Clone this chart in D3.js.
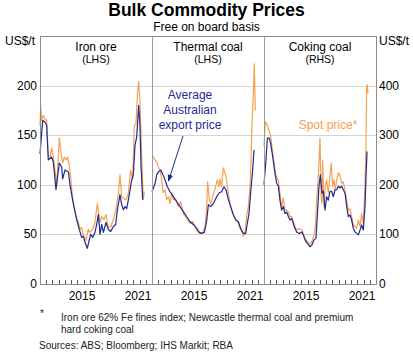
<!DOCTYPE html>
<meta charset="utf-8">
<title>Bulk Commodity Prices</title>
<style>
body { margin: 0; background: #fff; }
svg { font-family: "Liberation Sans", Arial, sans-serif; }
.grid line { stroke: #d4d4d4; stroke-width: 1px; }
.frame { fill: none; stroke: #8c8c8c; stroke-width: 1px; }
.tick-lab { font-size: 12px; fill: #000; }
.series { fill: none; stroke-width: 1.2px; stroke-linejoin: round; }
</style>
<body>
<svg></svg>
<script src="https://d3js.org/d3.v7.min.js"></script>
<script>

var width = 413,
    height = 354;

// panel names and which axis they use
var panels = ["Iron ore", "Thermal coal", "Coking coal"];
var panelSides = ["(LHS)", "(LHS)", "(RHS)"];
var yearLabels = [2015, 2021];
var leftTicks = [0, 50, 100, 150, 200];
var rightTicks = [0, 100, 200, 300, 400];

// [decimal year, US$/t]
var ironExport = [[2011.00,131],[2011.29,165],[2011.54,163],[2011.71,160],[2011.89,125],[2012.25,128],[2012.43,123],[2012.71,95],[2013.07,122],[2013.32,118],[2013.43,106],[2013.68,115],[2014.04,113],[2014.21,100],[2014.57,81],[2014.93,65],[2015.21,55],[2015.46,47],[2015.64,48],[2015.82,42],[2016.07,36],[2016.29,45],[2016.43,50],[2016.64,47],[2016.89,52],[2017.07,60],[2017.25,70],[2017.43,50],[2017.61,60],[2017.79,52],[2018.07,62],[2018.32,55],[2018.57,53],[2018.86,58],[2019.11,60],[2019.29,75],[2019.57,90],[2019.75,80],[2019.93,75],[2020.11,78],[2020.29,76],[2020.57,90],[2020.82,105],[2021.00,110],[2021.18,140],[2021.36,148],[2021.57,180],[2021.71,160],[2021.82,120],[2022.00,85]];
var ironSpot = [[2011.00,160],[2011.07,179],[2011.18,165],[2011.36,170],[2011.54,166],[2011.71,165],[2011.89,130],[2012.07,128],[2012.25,137],[2012.43,128],[2012.61,114],[2012.79,100],[2013.07,147],[2013.25,132],[2013.43,122],[2013.61,128],[2013.79,125],[2013.96,128],[2014.21,115],[2014.50,85],[2014.86,68],[2015.11,62],[2015.29,55],[2015.46,57],[2015.64,49],[2015.93,44],[2016.18,55],[2016.36,52],[2016.64,55],[2016.89,62],[2017.14,81],[2017.43,62],[2017.61,68],[2017.86,65],[2018.07,70],[2018.32,57],[2018.61,58],[2018.86,65],[2019.14,75],[2019.39,91],[2019.57,110],[2019.75,88],[2020.00,86],[2020.21,85],[2020.46,91],[2020.71,115],[2020.93,105],[2021.11,160],[2021.29,162],[2021.46,195],[2021.57,204],[2021.71,185],[2021.89,130],[2022.07,85],[2022.18,93]];

var thermalExport = [[2011.00,93],[2011.32,101],[2011.50,110],[2011.68,113],[2011.93,115],[2012.14,111],[2012.39,105],[2012.64,98],[2012.93,93],[2013.29,88],[2013.64,83],[2014.00,78],[2014.36,73],[2014.71,68],[2015.07,63],[2015.43,60],[2015.79,56],[2016.07,52],[2016.32,51],[2016.61,52],[2016.86,64],[2017.04,80],[2017.29,78],[2017.57,81],[2017.93,88],[2018.21,92],[2018.46,93],[2018.71,98],[2018.93,95],[2019.18,85],[2019.43,78],[2019.71,70],[2020.00,64],[2020.25,63],[2020.50,56],[2020.79,51],[2021.04,51],[2021.21,61],[2021.39,71],[2021.57,92],[2021.75,111],[2021.93,135]];
var thermalSpot = [[2011.00,131],[2011.14,128],[2011.32,125],[2011.50,123],[2011.68,118],[2011.86,115],[2012.04,105],[2012.21,92],[2012.39,95],[2012.57,85],[2012.75,88],[2012.93,81],[2013.11,92],[2013.29,85],[2013.57,85],[2013.82,78],[2014.07,83],[2014.36,71],[2014.71,66],[2015.07,61],[2015.36,63],[2015.61,58],[2015.86,53],[2016.14,51],[2016.43,52],[2016.68,58],[2016.86,78],[2016.96,103],[2017.14,85],[2017.32,81],[2017.50,88],[2017.64,92],[2017.86,100],[2018.00,105],[2018.18,98],[2018.29,106],[2018.46,98],[2018.64,117],[2018.82,112],[2019.00,105],[2019.18,92],[2019.36,81],[2019.64,71],[2019.89,66],[2020.14,64],[2020.36,58],[2020.61,53],[2020.79,48],[2020.96,51],[2021.14,68],[2021.32,78],[2021.50,98],[2021.61,125],[2021.71,159],[2021.86,192],[2021.96,222],[2022.07,175]];

var cokingExport = [[2011.00,200],[2011.21,250],[2011.36,294],[2011.57,294],[2011.71,284],[2011.93,257],[2012.18,223],[2012.36,203],[2012.54,197],[2012.71,169],[2012.89,149],[2013.07,156],[2013.25,142],[2013.43,145],[2013.61,136],[2013.79,129],[2013.96,132],[2014.14,122],[2014.32,112],[2014.50,105],[2014.79,102],[2015.04,105],[2015.21,99],[2015.39,89],[2015.64,82],[2015.93,75],[2016.14,79],[2016.36,89],[2016.57,92],[2016.71,136],[2016.89,197],[2017.04,220],[2017.21,183],[2017.36,187],[2017.54,149],[2017.71,176],[2017.89,169],[2018.07,187],[2018.25,187],[2018.43,176],[2018.61,190],[2018.79,190],[2018.96,197],[2019.14,194],[2019.32,197],[2019.50,190],[2019.68,183],[2019.86,156],[2020.04,136],[2020.21,139],[2020.39,129],[2020.57,112],[2020.75,105],[2020.93,102],[2021.11,99],[2021.29,109],[2021.46,119],[2021.64,109],[2021.82,156],[2021.93,217],[2022.04,267]];
var cokingSpot = [[2011.00,277],[2011.14,327],[2011.36,320],[2011.57,307],[2011.71,300],[2011.93,264],[2012.18,230],[2012.36,213],[2012.54,210],[2012.71,183],[2012.89,156],[2013.07,173],[2013.25,149],[2013.43,149],[2013.61,145],[2013.79,136],[2013.96,136],[2014.14,126],[2014.32,116],[2014.50,109],[2014.79,112],[2015.04,109],[2015.21,102],[2015.39,92],[2015.64,86],[2015.93,79],[2016.14,86],[2016.36,99],[2016.50,116],[2016.64,169],[2016.86,230],[2017.00,294],[2017.14,169],[2017.21,163],[2017.29,250],[2017.43,156],[2017.57,197],[2017.71,210],[2017.89,183],[2018.07,217],[2018.21,244],[2018.36,197],[2018.50,210],[2018.64,190],[2018.79,210],[2018.96,224],[2019.14,220],[2019.32,203],[2019.50,206],[2019.68,190],[2019.86,169],[2020.04,149],[2020.21,152],[2020.39,136],[2020.57,119],[2020.75,116],[2020.93,112],[2021.11,129],[2021.29,116],[2021.46,142],[2021.64,122],[2021.79,183],[2021.93,284],[2022.00,398],[2022.07,402],[2022.14,385]];

var exportSeries = [ironExport, thermalExport, cokingExport],
    spotSeries = [ironSpot, thermalSpot, cokingSpot];

var blue = "#1f2b8f",
    orange = "#f5a052";

var plotL = 40, plotR = 376, plotT = 36, plotB = 284,
    panelW = (plotR - plotL) / panels.length;

var svg = d3.select("svg").attr("width", width).attr("height", height);

var yL = d3.scaleLinear().domain([0, 250]).range([plotB, plotT]),
    yR = d3.scaleLinear().domain([0, 500]).range([plotB, plotT]);

// grid
svg.append("g").attr("class", "grid")
    .selectAll("line").data(leftTicks.slice(1))
    .enter().append("line")
    .attr("x1", plotL).attr("x2", plotR)
    .attr("y1", d => Math.round(yL(d)) + 0.5).attr("y2", d => Math.round(yL(d)) + 0.5);

// left / right tick labels
svg.append("g").selectAll("text").data(leftTicks).enter().append("text")
    .attr("class", "tick-lab")
    .attr("x", plotL - 3).attr("y", d => yL(d) + 4)
    .attr("text-anchor", "end").text(d => d);
svg.append("g").selectAll("text").data(rightTicks).enter().append("text")
    .attr("class", "tick-lab")
    .attr("x", plotR + 3).attr("y", d => yR(d) + 4)
    .text(d => d);

svg.append("text").attr("class", "tick-lab").attr("x", 5).attr("y", plotT + 9).text("US$/t");
svg.append("text").attr("class", "tick-lab").attr("x", plotR + 3).attr("y", plotT + 9).text("US$/t");

panels.forEach(function(name, i){
    var x0 = plotL + i * panelW;
    var x = d3.scaleLinear().domain([2011, 2023]).range([x0, x0 + panelW]);
    var y = i == 2 ? yR : yL;
    var line = d3.line().x(d => x(d[0])).y(d => y(d[1]));

    var g = svg.append("g");
    // minor ticks along the bottom
    var tickVals = d3.range(1, 18).map(k => 2011 + k * 12 / 18);
    g.selectAll("line.tk").data(tickVals).enter().append("line")
        .attr("x1", d => Math.round(x(d)) + 0.5).attr("x2", d => Math.round(x(d)) + 0.5)
        .attr("y1", plotB).attr("y2", plotB - 4)
        .attr("stroke", "#555").attr("stroke-width", 1);

    g.selectAll("text.yr").data(yearLabels).enter().append("text")
        .attr("class", "tick-lab")
        .attr("x", d => x(d + 0.5)).attr("y", plotB + 16)
        .attr("text-anchor", "middle").text(d => d);

    g.append("path").datum(spotSeries[i]).attr("class", "series")
        .attr("stroke", orange).attr("d", line);
    g.append("path").datum(exportSeries[i]).attr("class", "series")
        .attr("stroke", blue).attr("d", line);

    g.append("text").attr("x", x0 + panelW / 2).attr("y", plotT + 15)
        .attr("text-anchor", "middle").style("font-size", "12px").text(name);
    g.append("text").attr("x", x0 + panelW / 2).attr("y", plotT + 27)
        .attr("text-anchor", "middle").style("font-size", "10.5px").text(panelSides[i]);

    if (i > 0) {
        svg.append("line").attr("x1", x0 + 0.5).attr("x2", x0 + 0.5)
            .attr("y1", plotT).attr("y2", plotB).attr("stroke", "#9a9a9a");
    }
});

svg.append("rect").attr("class", "frame")
    .attr("x", plotL + 0.5).attr("y", plotT + 0.5)
    .attr("width", plotR - plotL).attr("height", plotB - plotT);

// annotations
var defs = svg.append("defs");
defs.append("marker").attr("id", "arr")
    .attr("viewBox", "0 0 10 10").attr("refX", 9).attr("refY", 5)
    .attr("markerWidth", 7).attr("markerHeight", 7).attr("orient", "auto")
    .append("path").attr("d", "M0,1L10,5L0,9Z").attr("fill", blue);

var ann = svg.append("text").attr("text-anchor", "middle")
    .style("font-size", "12px").attr("fill", blue);
["Average", "Australian", "export price"].forEach(function(t, k){
    ann.append("tspan").attr("x", 190).attr("y", 99 + k * 15).text(t);
});
svg.append("line").attr("x1", 183).attr("y1", 136).attr("x2", 168.5).attr("y2", 181)
    .attr("stroke", blue).attr("stroke-width", 1).attr("marker-end", "url(#arr)");

svg.append("text").attr("x", 328).attr("y", 129).attr("text-anchor", "middle")
    .style("font-size", "12px").attr("fill", orange).text("Spot price*");

// titles
svg.append("text").attr("x", width / 2).attr("y", 16).attr("text-anchor", "middle")
    .style("font-size", "17.5px").style("font-weight", "bold").text("Bulk Commodity Prices");
svg.append("text").attr("x", width / 2).attr("y", 31).attr("text-anchor", "middle")
    .style("font-size", "12px").text("Free on board basis");

// notes
var notes = svg.append("g").style("font-size", "10px").attr("fill", "#222");
notes.append("text").attr("x", 40).attr("y", 317).text("*");
notes.append("text").attr("x", 61).attr("y", 321).text("Iron ore 62% Fe fines index; Newcastle thermal coal and premium");
notes.append("text").attr("x", 61).attr("y", 333).text("hard coking coal");
notes.append("text").attr("x", 39).attr("y", 349).text("Sources: ABS; Bloomberg; IHS Markit; RBA");
</script>
</body>
